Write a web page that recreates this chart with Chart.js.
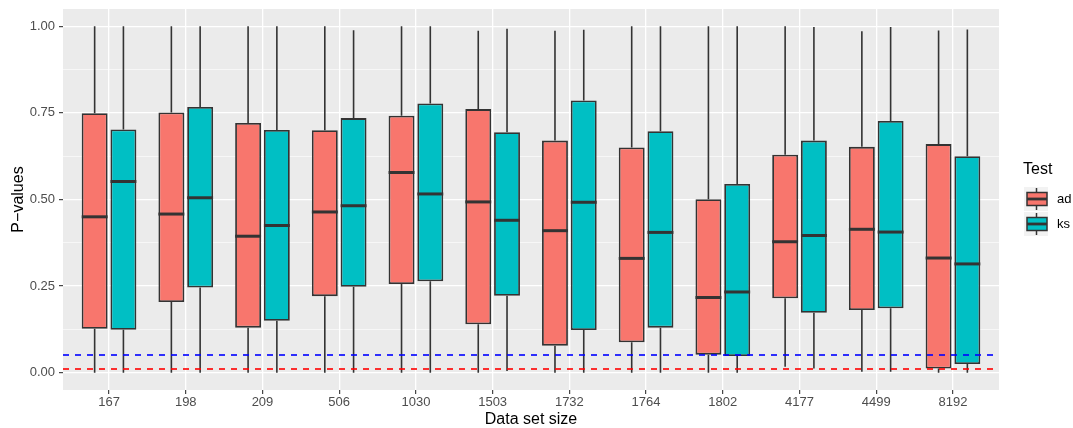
<!DOCTYPE html>
<html lang="en">
<head>
    <meta charset="UTF-8">
    <title>P-values by data set size</title>
    <style>
        * { margin: 0; padding: 0; box-sizing: border-box; }
        body { background-color: #fff; }
        .chart-box { width: 1073px; height: 428px; }
    </style>
    <script src="https://cdn.jsdelivr.net/npm/chart.js"></script>
</head>
<body>
    <div class="chart-box">
        <canvas id="pChart"></canvas>
    </div>

    <script>
        // Data
        const sizes = ['167', '198', '209', '506', '1030', '1503', '1732', '1764', '1802', '4177', '4499', '8192'];

        const adLow  = [0, 0, 0, 0, 0, 0, 0, 0, 0, 0.017, 0.003, 0];
        const adQ1   = [0.127, 0.204, 0.130, 0.221, 0.256, 0.140, 0.078, 0.088, 0.052, 0.215, 0.181, 0.012];
        const adMed  = [0.450, 0.458, 0.394, 0.464, 0.578, 0.493, 0.410, 0.330, 0.217, 0.378, 0.414, 0.331];
        const adQ3   = [0.749, 0.751, 0.721, 0.700, 0.742, 0.761, 0.670, 0.650, 0.501, 0.629, 0.652, 0.660];
        const adHigh = [1.0, 1.0, 1.0, 1.0, 1.0, 0.987, 0.987, 1.0, 1.0, 1.0, 0.986, 0.988];

        const ksLow  = [0, 0, 0, 0, 0, 0.005, 0, 0, 0, 0.012, 0.003, 0];
        const ksQ1   = [0.124, 0.246, 0.150, 0.248, 0.264, 0.222, 0.123, 0.130, 0.048, 0.173, 0.186, 0.025];
        const ksMed  = [0.552, 0.505, 0.425, 0.482, 0.516, 0.440, 0.492, 0.405, 0.233, 0.396, 0.406, 0.314];
        const ksQ3   = [0.702, 0.767, 0.701, 0.735, 0.777, 0.694, 0.786, 0.697, 0.545, 0.670, 0.727, 0.625];
        const ksHigh = [1.0, 1.0, 1.0, 0.989, 1.0, 0.993, 0.990, 1.0, 1.0, 0.998, 0.998, 0.991];

        const yTicks = [0, 0.125, 0.25, 0.375, 0.5, 0.625, 0.75, 0.875, 1.0];
        const refLines = [
            { value: 0.05, color: '#0000FF' },
            { value: 0.01, color: '#FF0000' }
        ];

        const FONT = '"Liberation Sans", Arial, sans-serif';
        const EDGE = '#333333';

        const series = [
            { label: 'ad', fill: '#F8766D', low: adLow, q1: adQ1, med: adMed, q3: adQ3, high: adHigh },
            { label: 'ks', fill: '#00BFC4', low: ksLow, q1: ksQ1, med: ksMed, q3: ksQ3, high: ksHigh }
        ];

        const isMajor = v => Math.abs(v * 4 - Math.round(v * 4)) < 1e-6;

        // grey panel behind the grid
        const panelBg = {
            id: 'panelBg',
            beforeDraw(chart) {
                const { ctx, chartArea: a } = chart;
                ctx.save();
                ctx.fillStyle = '#EBEBEB';
                ctx.fillRect(a.left, a.top, a.right - a.left, a.bottom - a.top);
                ctx.restore();
            }
        };

        // whiskers, medians and the dashed reference lines
        const boxParts = {
            id: 'boxParts',
            beforeDatasetsDraw(chart) {
                const { ctx } = chart;
                const y = chart.scales.y;
                ctx.save();
                ctx.strokeStyle = EDGE;
                ctx.lineWidth = 1.6;
                series.forEach((s, d) => {
                    chart.getDatasetMeta(d).data.forEach((bar, i) => {
                        ctx.beginPath();
                        ctx.moveTo(bar.x, y.getPixelForValue(s.high[i]));
                        ctx.lineTo(bar.x, y.getPixelForValue(s.q3[i]));
                        ctx.moveTo(bar.x, y.getPixelForValue(s.q1[i]));
                        ctx.lineTo(bar.x, y.getPixelForValue(s.low[i]));
                        ctx.stroke();
                    });
                });
                ctx.restore();
            },
            afterDatasetsDraw(chart) {
                const { ctx, chartArea: a } = chart;
                const y = chart.scales.y;
                ctx.save();
                ctx.strokeStyle = EDGE;
                ctx.lineWidth = 3;
                series.forEach((s, d) => {
                    chart.getDatasetMeta(d).data.forEach((bar, i) => {
                        const py = y.getPixelForValue(s.med[i]);
                        ctx.beginPath();
                        ctx.moveTo(bar.x - bar.width / 2, py);
                        ctx.lineTo(bar.x + bar.width / 2, py);
                        ctx.stroke();
                    });
                });
                ctx.lineWidth = 1.6;
                ctx.setLineDash([6, 6]);
                refLines.forEach(r => {
                    const py = Math.round(y.getPixelForValue(r.value));
                    ctx.strokeStyle = r.color;
                    ctx.beginPath();
                    ctx.moveTo(a.left, py);
                    ctx.lineTo(a.right, py);
                    ctx.stroke();
                });
                ctx.restore();
            }
        };

        // ggplot style legend on the right
        const sideLegend = {
            id: 'sideLegend',
            afterDraw(chart) {
                const { ctx } = chart;
                ctx.save();
                ctx.fillStyle = '#000';
                ctx.font = '16px ' + FONT;
                ctx.textBaseline = 'middle';
                ctx.fillText('Test', 1023, 170);
                series.forEach((s, k) => {
                    const top = 187 + k * 25;
                    ctx.fillStyle = '#F2F2F2';
                    ctx.fillRect(1024, top, 24, 24);
                    ctx.strokeStyle = EDGE;
                    ctx.lineWidth = 1.5;
                    ctx.beginPath();
                    ctx.moveTo(1036.5, top + 1);
                    ctx.lineTo(1036.5, top + 23);
                    ctx.stroke();
                    ctx.fillStyle = s.fill;
                    ctx.fillRect(1027, top + 5.5, 20, 13);
                    ctx.strokeRect(1027, top + 5.5, 20, 13);
                    ctx.lineWidth = 2.8;
                    ctx.beginPath();
                    ctx.moveTo(1027, top + 12);
                    ctx.lineTo(1047, top + 12);
                    ctx.stroke();
                    ctx.fillStyle = '#000';
                    ctx.font = '13px ' + FONT;
                    ctx.fillText(s.label, 1057, top + 12);
                });
                ctx.restore();
            }
        };

        const ctx = document.getElementById('pChart').getContext('2d');

        const pChart = new Chart(ctx, {
            type: 'bar',
            data: {
                datasets: series.map(s => ({
                    label: s.label,
                    data: sizes.map((_, i) => ({ x: i, y: [s.q1[i], s.q3[i]] })),
                    backgroundColor: s.fill,
                    borderColor: EDGE,
                    borderWidth: 1.8,
                    borderSkipped: false,
                    categoryPercentage: 0.75,
                    barPercentage: 0.9
                }))
            },
            options: {
                responsive: true,
                maintainAspectRatio: false,
                animation: false,
                layout: { padding: { top: 9, right: 74, left: 0, bottom: 0 } },
                plugins: {
                    legend: { display: false },
                    tooltip: { enabled: false }
                },
                scales: {
                    x: {
                        type: 'linear',
                        min: -0.6,
                        max: 11.6,
                        offset: false,
                        afterBuildTicks: scale => { scale.ticks = sizes.map((_, i) => ({ value: i })); },
                        afterFit: scale => {
                            scale.height = 38;
                            scale.paddingLeft = 0;
                            scale.paddingRight = 0;
                        },
                        ticks: {
                            callback: v => sizes[v],
                            autoSkip: false,
                            maxRotation: 0,
                            padding: 1,
                            color: '#4D4D4D',
                            font: { family: FONT, size: 13 }
                        },
                        grid: {
                            offset: false,
                            color: '#FFFFFF',
                            lineWidth: 1.3,
                            tickLength: 4,
                            tickColor: EDGE,
                            tickWidth: 1.1
                        },
                        border: { display: false },
                        title: {
                            display: true,
                            text: 'Data set size',
                            color: '#000',
                            padding: { top: 0, bottom: -1.5 },
                            font: { family: FONT, size: 16 }
                        }
                    },
                    y: {
                        min: -0.05,
                        max: 1.05,
                        afterBuildTicks: scale => { scale.ticks = yTicks.map(v => ({ value: v })); },
                        afterFit: scale => {
                            scale.width = 63;
                            scale.paddingTop = 0;
                            scale.paddingBottom = 0;
                        },
                        ticks: {
                            callback: v => isMajor(v) ? v.toFixed(2) : '',
                            padding: 4,
                            color: '#4D4D4D',
                            font: { family: FONT, size: 13 }
                        },
                        grid: {
                            color: '#FFFFFF',
                            lineWidth: c => isMajor(c.tick.value) ? 1.3 : 0.6,
                            tickLength: 4,
                            tickColor: c => isMajor(c.tick.value) ? EDGE : 'rgba(0,0,0,0)',
                            tickWidth: 1.1
                        },
                        border: { display: false },
                        title: {
                            display: true,
                            text: 'P\u2212values',
                            color: '#000',
                            padding: { top: 9, bottom: 0 },
                            font: { family: FONT, size: 16 }
                        }
                    }
                }
            },
            plugins: [panelBg, boxParts, sideLegend]
        });
    </script>
</body>
</html>
